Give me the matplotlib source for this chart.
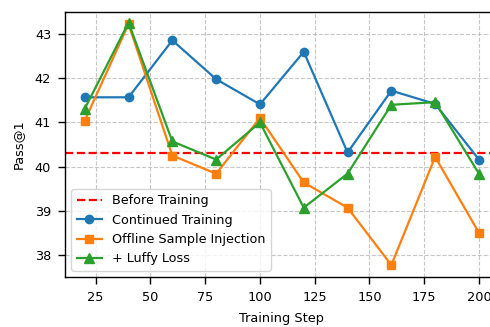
import matplotlib
matplotlib.use("Agg")
import matplotlib.pyplot as plt

steps = [20, 40, 60, 80, 100, 120, 140, 160, 180, 200]
continued = [41.57, 41.57, 42.86, 41.98, 41.41, 42.60, 40.32, 41.72, 41.42, 40.16]
offline = [41.04, 43.23, 40.25, 39.84, 41.10, 39.64, 39.07, 37.77, 40.22, 38.50]
luffy = [41.31, 43.26, 40.57, 40.16, 41.00, 39.07, 39.84, 41.40, 41.46, 39.84]
before = 40.31

fs = 9.3
fig = plt.figure(figsize=(4.9, 3.27), dpi=100)
ax = fig.add_axes([0.1327, 0.153, 0.885, 0.81])
ax.axhline(before, color="red", linestyle="--", linewidth=1.6, label="Before Training")
ax.plot(steps, continued, marker="o", markersize=6, linewidth=1.6, color="#1f77b4", label="Continued Training")
ax.plot(steps, offline, marker="s", markersize=6, linewidth=1.6, color="#ff7f0e", label="Offline Sample Injection")
ax.plot(steps, luffy, marker="^", markersize=6.5, linewidth=1.6, color="#2ca02c", label="+ Luffy Loss")
ax.set_xlim(11, 209)
ax.set_ylim(37.5, 43.5)
ax.set_xticks([25, 50, 75, 100, 125, 150, 175, 200])
ax.set_yticks([38, 39, 40, 41, 42, 43])
ax.grid(True, linestyle="--", color="#b0b0b0", alpha=0.7, linewidth=0.8)
ax.tick_params(labelsize=fs, length=5, width=1.0, pad=5)
for s in ax.spines.values():
    s.set_linewidth(1.0)
ax.set_xlabel("Training Step", fontsize=fs, labelpad=6)
ax.set_ylabel("Pass@1", fontsize=fs, labelpad=7)
ax.legend(loc="lower left", fontsize=9.2)
fig.savefig("out.png", dpi=100)
